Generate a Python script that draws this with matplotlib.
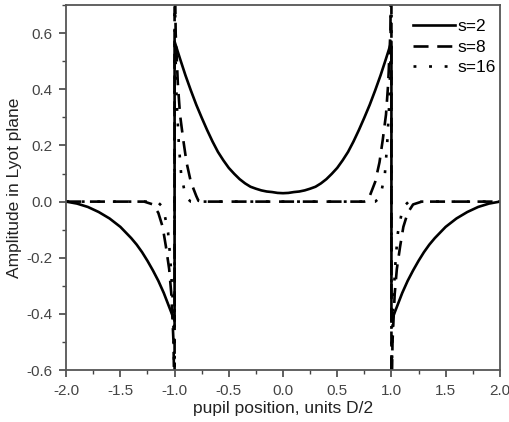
import matplotlib
matplotlib.use("Agg")
import matplotlib.pyplot as plt
import numpy as np

plt.rcParams['font.family'] = ['Liberation Sans', 'DejaVu Sans']

# half profiles for x >= 0 (the picture is symmetric about x = 0)
x_s2 = [0.0, 0.05, 0.1, 0.15, 0.2, 0.25, 0.3, 0.35, 0.4, 0.45, 0.5, 0.55, 0.6, 0.65,
        0.7, 0.75, 0.8, 0.85, 0.9, 0.95, 1.0,
        1.0, 1.05, 1.1, 1.15, 1.2, 1.25, 1.3, 1.35, 1.4, 1.5, 1.6, 1.7, 1.8, 1.9, 2.0]
y_s2 = [0.030, 0.031, 0.034, 0.036, 0.040, 0.046, 0.053, 0.065, 0.080, 0.099, 0.120, 0.147,
        0.177, 0.214, 0.255, 0.299, 0.345, 0.396, 0.450, 0.509, 0.570,
        -0.425, -0.375, -0.325, -0.282, -0.245, -0.211, -0.180, -0.153, -0.130, -0.090,
        -0.060, -0.037, -0.019, -0.007, 0.0]

x_s8 = [0.0, 0.75, 0.78, 0.80, 0.85, 0.89, 0.92, 0.95, 0.97, 0.99, 1.0,
        1.0, 1.01, 1.03, 1.05, 1.08, 1.11, 1.15, 1.20, 1.28, 2.0]
y_s8 = [0.0, 0.0, 0.003, 0.02, 0.07, 0.14, 0.22, 0.31, 0.42, 0.60, 0.90,
        -0.75, -0.50, -0.33, -0.24, -0.16, -0.09, -0.04, -0.01, 0.0, 0.0]

x_s16 = [0.0, 0.85, 0.88, 0.91, 0.94, 0.96, 0.98, 0.99, 1.0,
         1.0, 1.01, 1.02, 1.04, 1.06, 1.09, 1.12, 1.16, 2.0]
y_s16 = [0.0, 0.0, 0.01, 0.04, 0.10, 0.20, 0.35, 0.50, 0.90,
         -0.75, -0.45, -0.33, -0.20, -0.11, -0.05, -0.015, 0.0, 0.0]

labels = ["s=2", "s=8", "s=16"]


def mirror(xh, yh):
    xh = np.asarray(xh)
    yh = np.asarray(yh)
    return np.concatenate([-xh[::-1], xh]), np.concatenate([yh[::-1], yh])


fig = plt.figure(figsize=(5.09, 4.22), dpi=100)
ax = fig.add_axes([0.13, 0.123, 0.852, 0.865])

x, y = mirror(x_s2, y_s2)
ax.plot(x, y, color='black', lw=1.9, label=labels[0])
x, y = mirror(x_s8, y_s8)
ax.plot(x, y, color='black', lw=1.9, dashes=(5.7, 3.3), label=labels[1])
x, y = mirror(x_s16, y_s16)
ax.plot(x, y, color='black', lw=1.9, dashes=(1.1, 4.8), label=labels[2])

ax.set_xlim(-2.0, 2.0)
ax.set_ylim(-0.6, 0.7)
ax.set_xticks(np.arange(-2.0, 2.01, 0.5))
ax.set_yticks(np.arange(-0.6, 0.61, 0.2))
ax.set_xticks(np.arange(-2.0, 2.01, 0.25), minor=True)
ax.set_yticks(np.arange(-0.6, 0.71, 0.1), minor=True)
ax.xaxis.set_major_formatter(matplotlib.ticker.FormatStrFormatter('%.1f'))
ax.yaxis.set_major_formatter(matplotlib.ticker.FormatStrFormatter('%.1f'))
ax.tick_params(which='major', direction='out', length=5, width=1.2, colors='#444444',
               labelsize=11, pad=5)
ax.tick_params(which='minor', direction='out', length=3, width=1.0, colors='#444444')
for sp in ax.spines.values():
    sp.set_color('#555555')
    sp.set_linewidth(1.3)

ax.set_xlabel("pupil position, units D/2", fontsize=12.5, color='#222222', labelpad=2)
ax.set_ylabel("Amplitude in Lyot plane", fontsize=12.5, color='#222222', labelpad=3)

ax.legend(loc='upper right', bbox_to_anchor=(1.01, 0.985), frameon=False, fontsize=12.5,
          handlelength=2.4, handletextpad=0.15, labelspacing=0.3, borderaxespad=0.1)

fig.savefig("out.png", dpi=100)
